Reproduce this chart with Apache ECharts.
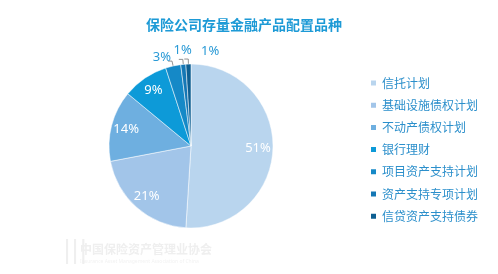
<!DOCTYPE html>
<html>
<head>
<meta charset="utf-8">
<script src="https://cdn.jsdelivr.net/npm/echarts@6/dist/echarts.min.js"></script>
<style>
  html, body { margin: 0; padding: 0; background: #fff; }
  #chart { width: 498px; height: 274px; }
</style>
</head>
<body>
<div id="chart"></div>
<script>
// 保险公司存量金融产品配置品种
const categories = ['信托计划', '基础设施债权计划', '不动产债权计划', '银行理财', '项目资产支持计划', '资产支持专项计划', '信贷资产支持债券']
const shares = [51, 21, 14, 9, 3, 1, 1]
const colors = ['#b9d5ee', '#a2c5e9', '#6eafe0', '#0d9ad8', '#1589c7', '#1477b5', '#0e5f92']
const insideLimit = 5   // 小于5%的放外面
// 外面几个小标签挤在一起，挪开一点
const nudges = { 4: { dx: 8, dy: -4 }, 5: { dx: 18, dy: -9 }, 6: { dx: 40, dy: -8 } }

const chart = echarts.init(document.getElementById('chart'))

const pieData = categories.map((name, i) => ({
  name,
  value: shares[i],
  itemStyle: { color: colors[i] }
}))

// 透明圆环只用来放标签，让里面的百分比靠外一点
const labelData = categories.map((name, i) => {
  const inside = shares[i] >= insideLimit
  return {
    name,
    value: shares[i],
    label: inside
      ? { position: 'inside', color: '#fff' }
      : { position: 'outside', color: '#2a9ad6' },
    labelLine: { show: !inside }
  }
})

chart.setOption({
  title: {
    text: '保险公司存量金融产品配置品种',
    left: 141,
    top: 13,
    textStyle: {
      fontSize: 14,
      fontWeight: 'bold',
      color: '#1d9ad6',
      fontFamily: 'Noto Sans CJK SC'
    }
  },
  legend: {
    orient: 'vertical',
    left: 364,
    top: 72,
    itemWidth: 7,
    itemHeight: 7,
    itemGap: 10.2,
    icon: 'rect',
    data: categories,
    textStyle: { color: '#2b8fcb', fontSize: 12, fontFamily: 'Noto Sans CJK SC' }
  },
  graphic: [
    {
      type: 'text',
      left: 80,
      top: 243,
      style: { text: '中国保险资产管理业协会', fill: '#efefef', font: 'bold 12px "Noto Sans CJK SC"' }
    },
    {
      type: 'text',
      left: 80,
      top: 259,
      style: { text: 'Insurance Asset Management Association of China', fill: '#f2f2f2', font: '5px "Noto Sans"' }
    },
    {
      type: 'text',
      left: 63,
      top: 240,
      style: { text: '|||', fill: '#efefef', font: '24px "DejaVu Sans"' }
    }
  ],
  series: [
    {
      name: 'main',
      type: 'pie',
      center: [191, 146],
      radius: [0, 82],
      startAngle: 90,
      clockwise: true,
      silent: true,
      label: { show: false },
      labelLine: { show: false },
      itemStyle: { borderColor: '#fff', borderWidth: 0.5 },
      data: pieData
    },
    {
      name: 'labels',
      type: 'pie',
      center: [191, 146],
      radius: [46, 82],
      startAngle: 90,
      clockwise: true,
      silent: true,
      avoidLabelOverlap: false,
      itemStyle: { color: 'rgba(0,0,0,0)' },
      label: { formatter: '{c}%', fontFamily: 'Noto Sans', fontSize: 13 },
      labelLine: { length: 5, length2: 4, lineStyle: { color: '#777', width: 0.8 } },
      labelLayout: p => nudges[p.dataIndex] || {},
      data: labelData
    }
  ]
})
</script>
</body>
</html>
